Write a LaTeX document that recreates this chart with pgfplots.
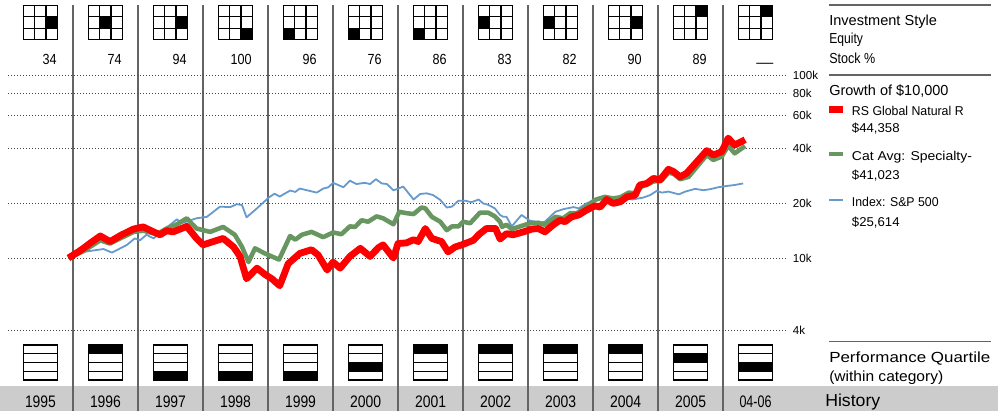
\documentclass[border=0pt]{standalone}
\usepackage{pgfplots}
\pgfplotsset{compat=1.18}
\usepackage{fontspec}
\setmainfont{Liberation Sans}
\usepackage{graphicx}

\definecolor{rsred}{RGB}{255,0,0}
\definecolor{catgreen}{RGB}{104,150,96}
\definecolor{spblue}{RGB}{102,153,204}
\definecolor{sepgray}{RGB}{100,100,100}
\definecolor{bandgray}{RGB}{204,204,204}
\definecolor{gridgray}{RGB}{70,70,70}

\newdimen\px \px=0.75pt
\newcommand{\fit}[3]{\resizebox{#2}{\height}{\fontsize{#1}{#1}\selectfont #3}}

\newcommand{\stylegrid}[3]{%
  \fill[black] ({#1+#3*34/3},{5.5+#2*34/3}) rectangle ++(34/3,34/3);
  \draw[line width=0.9pt] (#1,5.5) rectangle ++(34,34);
  \foreach \i in {1,2} {\draw[line width=0.9pt] ({#1+\i*34/3},5.5) -- ++(0,34);
    \draw[line width=0.9pt] (#1,{5.5+\i*34/3}) -- ++(34,0);}
}
\newcommand{\qgrid}[2]{%
  \ifnum#2>-1 \fill[black] (#1,{345+#2*8.75}) rectangle ++(34,8.75); \fi
  \draw[line width=0.9pt] (#1,345) rectangle ++(34,35);
  \foreach \i in {1,2,3} {\draw[line width=0.9pt] (#1,{345+\i*8.75}) -- ++(34,0);}
}

\pgfplotstableread{
t v
1995.93 10.0
1996.08 10.8
1996.16 11.3
1996.27 12.1
1996.42 13.2
1996.57 12.3
1996.75 13.4
1996.93 14.4
1997.08 14.8
1997.24 13.9
1997.34 13.4
1997.44 14.1
1997.54 13.9
1997.75 14.9
1997.90 12.8
1998.00 11.8
1998.31 12.8
1998.47 11.5
1998.57 10.2
1998.67 7.7
1998.83 8.8
1998.96 8.1
1999.06 7.7
1999.18 7.05
1999.31 9.3
1999.49 10.6
1999.67 11.1
1999.77 10.4
1999.91 8.6
2000.00 9.5
2000.11 8.8
2000.26 10.2
2000.42 11.3
2000.57 10.2
2000.70 11.4
2000.77 11.8
2000.93 10.0
2001.00 12.0
2001.13 12.1
2001.24 12.6
2001.31 12.3
2001.42 14.5
2001.52 12.8
2001.67 12.3
2001.77 10.8
2001.88 11.5
2001.98 11.8
2002.16 12.5
2002.25 13.5
2002.36 14.5
2002.50 14.5
2002.57 12.7
2002.67 13.6
2002.77 13.4
2002.93 13.9
2003.06 14.4
2003.16 14.5
2003.26 13.9
2003.39 15.2
2003.49 16.1
2003.57 15.8
2003.67 16.8
2003.78 17.2
2003.90 18.3
2004.03 19.3
2004.11 19.0
2004.21 20.9
2004.31 19.9
2004.42 20.3
2004.52 21.6
2004.65 22.1
2004.72 25.1
2004.83 25.6
2004.93 27.3
2005.03 26.7
2005.16 30.6
2005.24 29.7
2005.34 27.8
2005.44 29.1
2005.60 33.7
2005.75 38.7
2005.85 36.6
2005.98 38.2
2006.08 45.3
2006.18 41.5
2006.34 44.4
}\rsdata

\pgfplotstableread{
t v
1995.93 10.0
1996.16 10.9
1996.42 12.5
1996.57 12.0
1996.93 13.9
1997.08 14.1
1997.29 13.5
1997.44 14.5
1997.60 15.3
1997.75 16.5
1997.90 14.5
1998.11 13.9
1998.31 14.8
1998.49 13.4
1998.60 11.5
1998.70 9.5
1998.80 11.3
1998.95 10.6
1999.17 9.8
1999.34 13.2
1999.42 12.6
1999.52 13.4
1999.67 13.9
1999.85 13.0
2000.00 13.8
2000.13 13.5
2000.26 14.9
2000.34 14.8
2000.44 16.1
2000.54 15.8
2000.67 16.9
2000.77 16.5
2000.93 15.3
2001.02 17.9
2001.13 17.6
2001.24 17.4
2001.36 18.9
2001.42 18.7
2001.52 16.8
2001.65 15.8
2001.75 14.2
2001.83 14.9
2001.93 14.9
2002.00 15.8
2002.11 15.5
2002.26 17.7
2002.39 17.7
2002.49 16.9
2002.57 15.8
2002.60 14.8
2002.67 15.2
2002.75 14.4
2002.88 14.9
2003.03 15.5
2003.16 15.6
2003.26 15.2
2003.42 16.8
2003.54 16.5
2003.65 17.6
2003.75 17.6
2003.90 19.1
2004.03 20.8
2004.18 21.6
2004.31 21.2
2004.42 21.5
2004.55 22.8
2004.65 22.6
2004.75 24.6
2004.85 25.4
2004.93 26.2
2005.06 26.7
2005.16 29.3
2005.24 28.9
2005.34 27.0
2005.47 27.8
2005.60 31.6
2005.75 36.6
2005.85 34.4
2005.98 35.9
2006.08 41.1
2006.18 37.4
2006.34 41.0
}\catdata

\pgfplotstableread{
t v
1995.93 10.0
1996.16 10.8
1996.47 11.2
1996.60 10.7
1996.83 11.8
1996.95 12.8
1997.03 12.5
1997.13 13.4
1997.24 12.8
1997.39 14.2
1997.60 16.3
1997.67 15.5
1997.90 16.5
1998.06 16.8
1998.26 19.1
1998.42 19.0
1998.52 19.7
1998.60 19.5
1998.67 16.7
1998.83 18.7
1999.01 21.4
1999.10 22.5
1999.18 21.7
1999.34 23.4
1999.42 23.0
1999.49 24.0
1999.75 22.8
1999.85 24.0
1999.93 24.4
2000.00 25.8
2000.16 24.4
2000.26 26.5
2000.36 25.4
2000.49 25.8
2000.57 25.4
2000.66 27.0
2000.75 25.6
2000.83 25.4
2000.93 23.5
2000.98 23.8
2001.08 24.6
2001.24 20.9
2001.34 22.4
2001.44 22.6
2001.54 22.1
2001.65 20.8
2001.75 18.9
2001.83 19.1
2001.93 20.6
2002.03 20.6
2002.13 20.2
2002.24 20.9
2002.31 19.9
2002.38 19.6
2002.49 18.7
2002.57 17.2
2002.62 16.8
2002.67 16.8
2002.75 14.9
2002.90 17.2
2003.03 16.0
2003.19 15.6
2003.26 15.8
2003.42 17.9
2003.54 18.5
2003.70 19.0
2003.78 18.7
2003.90 19.9
2004.03 20.9
2004.18 21.6
2004.31 21.0
2004.47 21.5
2004.60 20.9
2004.77 21.4
2004.88 22.1
2004.98 23.3
2005.06 22.8
2005.16 23.1
2005.32 22.3
2005.42 23.1
2005.57 23.9
2005.70 23.5
2005.80 23.8
2005.93 24.4
2006.06 24.8
2006.18 25.1
2006.31 25.6
}\spdata

\begin{document}
\begin{tikzpicture}
\begin{scope}[x=0.75pt,y=-0.75pt]
\useasboundingbox (0,0) rectangle (998,411);
% history band
\fill[bandgray] (0,386) rectangle (998,411);
% column separators
\foreach \k in {0,...,10} {\draw[sepgray,line width=1.1pt] ({73+65*\k},5) -- ({73+65*\k},411);}
% style boxes
\stylegrid{23.3}{1}{2}
\stylegrid{88.3}{1}{1}
\stylegrid{153.3}{1}{2}
\stylegrid{218.3}{2}{2}
\stylegrid{283.3}{2}{0}
\stylegrid{348.3}{2}{0}
\stylegrid{413.3}{2}{0}
\stylegrid{478.3}{1}{0}
\stylegrid{543.3}{1}{0}
\stylegrid{608.3}{1}{2}
\stylegrid{673.3}{0}{2}
\stylegrid{738.3}{0}{2}
% stock percent
\foreach \n [count=\c from 0] in {34,74,94,100,96,76,86,83,82,90,89} {
  \ifnum\n>99 \def\w{21}\else\def\w{14}\fi
  \node[anchor=base east,inner sep=0pt] at ({57+65*\c},64.5) {\fit{11pt}{\w\px}{\n}};
}
\node[anchor=base west,inner sep=0pt] at (756,67.5) {\fit{11pt}{17\px}{—}};
% quartile boxes
\qgrid{23.3}{-1}
\qgrid{88.3}{0}
\qgrid{153.3}{3}
\qgrid{218.3}{3}
\qgrid{283.3}{3}
\qgrid{348.3}{2}
\qgrid{413.3}{0}
\qgrid{478.3}{0}
\qgrid{543.3}{0}
\qgrid{608.3}{0}
\qgrid{673.3}{1}
\qgrid{738.3}{2}
% years
\foreach \y [count=\c from 0] in {1995,1996,1997,1998,1999,2000,2001,2002,2003,2004,2005} {
  \node[anchor=base,inner sep=0pt] at ({40.5+65*\c},407) {\fit{12.5pt}{31\px}{\y}};
}
\node[anchor=base,inner sep=0pt] at (755.5,407) {\fit{12.5pt}{32\px}{04-06}};
\node[anchor=base west,inner sep=0pt] at (825,406) {\fit{13pt}{55\px}{History}};
% right panel
\draw[sepgray,line width=1.1pt] (829,5) -- (991,5);
\draw[sepgray,line width=1.1pt] (829,75) -- (991,75);
\draw[sepgray,line width=1.1pt] (829,341.7) -- (991,341.7);
\node[anchor=base west,inner sep=0pt] at (829,25) {\fit{10.9pt}{107.7\px}{Investment Style}};
\node[anchor=base west,inner sep=0pt] at (829,43.5) {\fit{10.9pt}{33.7\px}{Equity}};
\node[anchor=base west,inner sep=0pt] at (829,63.3) {\fit{10.9pt}{46\px}{Stock \%}};
\node[anchor=base west,inner sep=0pt] at (829,95) {\fit{10.9pt}{119.3\px}{Growth of \$10,000}};
\fill[rsred] (829,106) rectangle (843.3,112.7);
\fill[catgreen] (829,152.4) rectangle (843.3,155.8);
\fill[spblue] (829,199.4) rectangle (843.3,201.4);
\node[anchor=base west,inner sep=0pt] at (851.7,115) {\fit{9.6pt}{111.7\px}{RS Global Natural R}};
\node[anchor=base west,inner sep=0pt] at (851.7,132.7) {\fit{9.6pt}{47.7\px}{\$44,358}};
\node[anchor=base west,inner sep=0pt] at (851.7,160.5) {\fit{9.6pt}{120\px}{Cat Avg: Specialty-}};
\node[anchor=base west,inner sep=0pt] at (851.7,179) {\fit{9.6pt}{47.7\px}{\$41,023}};
\node[anchor=base west,inner sep=0pt] at (851.7,206.7) {\fit{9.6pt}{86.7\px}{Index: S\&P 500}};
\node[anchor=base west,inner sep=0pt] at (851.7,226) {\fit{9.6pt}{47.7\px}{\$25,614}};
\node[anchor=base west,inner sep=0pt] at (829,362.3) {\fit{11pt}{161\px}{Performance Quartile}};
\node[anchor=base west,inner sep=0pt] at (829,381) {\fit{11pt}{114\px}{(within category)}};
\end{scope}

\begin{axis}[
  at={(6pt,-248.03pt)}, anchor=south west,
  scale only axis, width=585pt, height=191.55pt,
  xmin=1995, xmax=2007, ymode=log, ymin=4, ymax=100,
  axis line style={draw=none}, tick style={draw=none},
  xtick=\empty,
  ytick={4,10,20,40,60,80,100},
  yticklabels={4k,10k,20k,40k,60k,80k,100k},
  ymajorgrids,
  grid style={gridgray, line width=0.75pt, dash pattern=on 0.75pt off 1.5pt},
  major tick length=0pt, yticklabel pos=right,
  yticklabel style={font=\fontsize{8.7pt}{8.7pt}\selectfont, inner sep=0pt, xshift=3.5pt, anchor=west},
  line join=round,
]
\addplot[spblue, line width=1.35pt, no markers] table[x=t,y=v] {\spdata};
\addplot[catgreen, line width=3.4pt, no markers] table[x=t,y=v] {\catdata};
\addplot[rsred, line width=5.1pt, no markers] table[x=t,y=v] {\rsdata};
\end{axis}
\end{tikzpicture}
\end{document}
